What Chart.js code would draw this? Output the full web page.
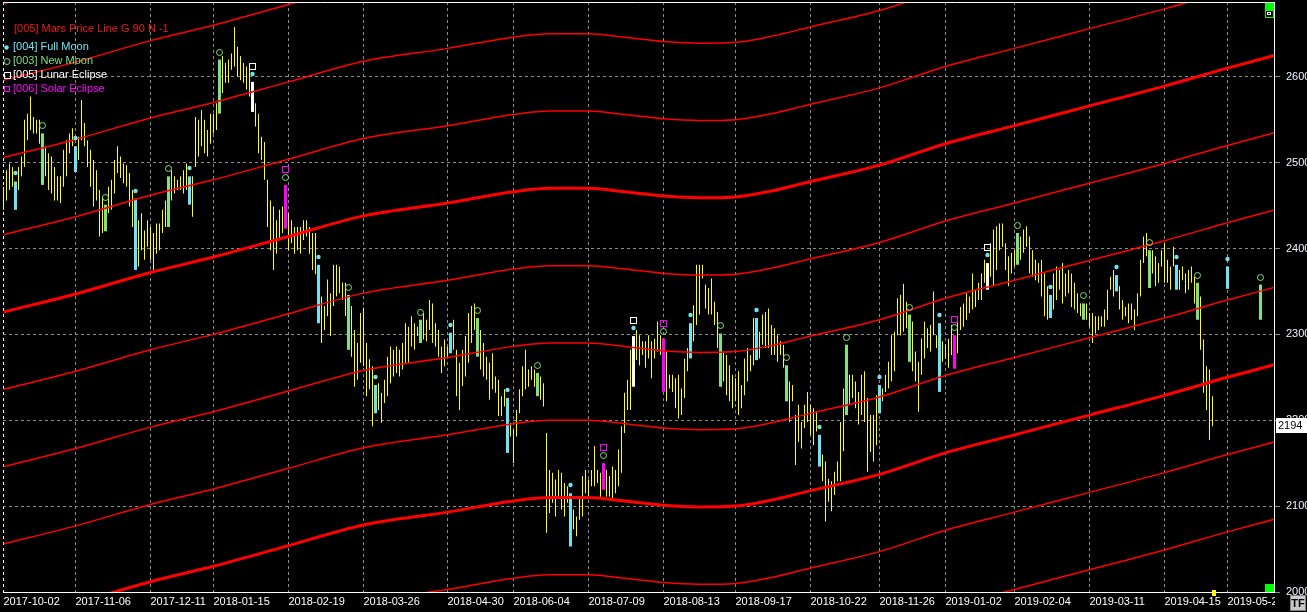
<!DOCTYPE html>
<html>
<head>
<meta charset="utf-8">
<script src="https://cdn.jsdelivr.net/npm/chart.js@4.4.0/dist/chart.umd.min.js"></script>
<style>
    html, body { margin: 0; padding: 0; background: #000; }
    canvas { display: block; }
</style>
</head>
<body>
<canvas id="myChart" width="1307" height="612"></canvas>
<script>
// daily bars from 2017-10-02, index 0 = first bar
var hiVals = [
    2472, 2491, 2499, 2495, 2478, 2495, 2507, 2550, 2557, 2577, 2553, 2550, 2550, 2534, 2519, 2511, 2507, 2495, 2484, 2484,
    2515, 2526, 2534, 2540, 2519, 2530, 2573, 2546, 2526, 2515, 2503, 2491, 2468, 2460, 2451, 2472, 2480, 2503, 2519, 2507,
    2499, 2497, 2488, 2468, 2458, 2433, 2441, 2421, 2433, 2425, 2418, 2429, 2429, 2445, 2456, 2484, 2491, 2484, 2480, 2484,
    2491, 2499, 2484, 2484, 2553, 2550, 2561, 2550, 2538, 2557, 2557, 2569, 2620, 2624, 2616, 2620, 2627, 2658, 2635, 2624,
    2616, 2612, 2608, 2594, 2569, 2557, 2530, 2524, 2480, 2456, 2449, 2433, 2445, 2449, 2474, 2441, 2433, 2425, 2425, 2425,
    2433, 2433, 2425, 2418, 2418, 2381, 2344, 2333, 2364, 2348, 2381, 2381, 2379, 2360, 2360, 2346, 2333, 2305, 2290, 2325,
    2331, 2290, 2271, 2263, 2241, 2243, 2232, 2247, 2274, 2286, 2282, 2286, 2282, 2290, 2313, 2309, 2321, 2313, 2309, 2317,
    2325, 2317, 2340, 2336, 2313, 2305, 2286, 2294, 2286, 2302, 2317, 2282, 2267, 2282, 2298, 2325, 2333, 2336, 2319, 2305,
    2290, 2274, 2267, 2278, 2251, 2247, 2228, 2236, 2226, 2197, 2189, 2212, 2236, 2263, 2282, 2259, 2263, 2259, 2255, 2251,
    2243, 2185, 2142, 2139, 2131, 2142, 2139, 2127, 2123, 2115, 2096, 2088, 2108, 2135, 2142, 2131, 2142, 2170, 2142, 2139,
    2150, 2142, 2135, 2146, 2142, 2166, 2193, 2232, 2247, 2282, 2298, 2305, 2299, 2292, 2292, 2299, 2292, 2295, 2315, 2299,
    2295, 2280, 2253, 2253, 2249, 2253, 2237, 2272, 2284, 2313, 2334, 2381, 2381, 2381, 2358, 2354, 2365, 2338, 2326, 2301,
    2280, 2276, 2264, 2253, 2249, 2257, 2241, 2272, 2284, 2276, 2319, 2319, 2303, 2323, 2326, 2330, 2311, 2307, 2299, 2292,
    2288, 2264, 2245, 2241, 2206, 2218, 2198, 2218, 2233, 2218, 2214, 2210, 2183, 2160, 2152, 2132, 2129, 2140, 2152, 2198,
    2237, 2288, 2253, 2253, 2245, 2233, 2253, 2257, 2226, 2206, 2206, 2229, 2241, 2237, 2253, 2268, 2299, 2303, 2342, 2346,
    2359, 2338, 2323, 2315, 2280, 2268, 2295, 2315, 2307, 2311, 2350, 2299, 2313, 2292, 2288, 2295, 2311, 2299, 2317, 2332,
    2336, 2348, 2344, 2371, 2352, 2360, 2371, 2387, 2383, 2406, 2422, 2426, 2429, 2429, 2406, 2391, 2395, 2398, 2418, 2414,
    2422, 2426, 2414, 2398, 2387, 2383, 2387, 2371, 2356, 2346, 2371, 2379, 2375, 2383, 2371, 2375, 2371, 2360, 2348, 2336,
    2336, 2336, 2325, 2325, 2321, 2321, 2321, 2329, 2352, 2367, 2375, 2369, 2356, 2340, 2332, 2336, 2336, 2329, 2348, 2387,
    2414, 2418, 2398, 2398, 2391, 2383, 2398, 2406, 2387, 2379, 2402, 2381, 2375, 2379, 2371, 2375, 2379, 2367, 2360, 2344,
    2294, 2263, 2259, 2228
]
var loVals = [
    2445, 2456, 2468, 2472, 2445, 2468, 2484, 2495, 2526, 2538, 2534, 2534, 2522, 2474, 2484, 2468, 2464, 2456, 2456, 2453,
    2472, 2484, 2511, 2519, 2489, 2503, 2526, 2519, 2495, 2472, 2449, 2456, 2414, 2418, 2420, 2441, 2445, 2464, 2488, 2482,
    2476, 2472, 2449, 2425, 2375, 2379, 2398, 2387, 2402, 2387, 2375, 2394, 2398, 2418, 2425, 2425, 2456, 2464, 2468, 2468,
    2464, 2468, 2451, 2437, 2495, 2507, 2519, 2511, 2507, 2522, 2534, 2538, 2557, 2581, 2593, 2593, 2608, 2612, 2600, 2596,
    2593, 2585, 2577, 2559, 2542, 2511, 2503, 2480, 2425, 2398, 2375, 2394, 2410, 2418, 2423, 2398, 2406, 2394, 2398, 2394,
    2410, 2414, 2394, 2375, 2370, 2313, 2290, 2305, 2321, 2298, 2333, 2344, 2348, 2340, 2321, 2282, 2274, 2239, 2247, 2267,
    2263, 2228, 2236, 2193, 2208, 2212, 2197, 2220, 2228, 2243, 2251, 2255, 2251, 2259, 2267, 2267, 2286, 2282, 2298, 2290,
    2294, 2292, 2305, 2290, 2286, 2274, 2255, 2263, 2274, 2278, 2282, 2228, 2212, 2240, 2251, 2267, 2290, 2305, 2274, 2259,
    2251, 2247, 2224, 2236, 2232, 2205, 2205, 2216, 2162, 2181, 2150, 2181, 2208, 2228, 2236, 2239, 2247, 2239, 2228, 2224,
    2216, 2069, 2092, 2104, 2088, 2111, 2096, 2088, 2104, 2053, 2073, 2065, 2084, 2088, 2115, 2111, 2123, 2123, 2127, 2111,
    2119, 2111, 2111, 2108, 2115, 2123, 2139, 2185, 2212, 2212, 2239, 2270, 2264, 2276, 2261, 2272, 2249, 2272, 2280, 2276,
    2233, 2222, 2237, 2233, 2214, 2202, 2206, 2226, 2257, 2272, 2292, 2311, 2323, 2365, 2330, 2323, 2323, 2311, 2284, 2239,
    2245, 2229, 2222, 2214, 2222, 2206, 2214, 2229, 2245, 2257, 2264, 2270, 2272, 2288, 2284, 2284, 2276, 2276, 2268, 2276,
    2261, 2222, 2198, 2222, 2148, 2175, 2167, 2191, 2198, 2183, 2171, 2187, 2146, 2129, 2082, 2105, 2094, 2113, 2129, 2129,
    2164, 2206, 2218, 2226, 2214, 2195, 2206, 2198, 2140, 2163, 2152, 2171, 2208, 2222, 2233, 2237, 2245, 2257, 2299, 2299,
    2303, 2307, 2268, 2257, 2245, 2210, 2253, 2272, 2284, 2280, 2299, 2284, 2233, 2268, 2272, 2261, 2276, 2260, 2278, 2305,
    2309, 2317, 2325, 2329, 2332, 2340, 2340, 2360, 2352, 2367, 2356, 2375, 2398, 2402, 2375, 2356, 2371, 2379, 2381, 2387,
    2395, 2402, 2371, 2367, 2363, 2360, 2344, 2321, 2317, 2319, 2329, 2340, 2352, 2336, 2344, 2348, 2332, 2329, 2325, 2321,
    2317, 2317, 2309, 2290, 2301, 2305, 2309, 2309, 2317, 2352, 2344, 2350, 2329, 2317, 2321, 2313, 2317, 2305, 2321, 2344,
    2383, 2391, 2354, 2371, 2356, 2360, 2379, 2360, 2360, 2352, 2379, 2352, 2352, 2363, 2348, 2352, 2360, 2336, 2317, 2282,
    2232, 2212, 2177, 2193
]
var lastClose = 2194

// bars that fall on moon events
var fullMoonIdx = [4, 24, 44, 62, 83, 105, 124, 149, 168, 189, 210, 229, 251, 272, 292, 312, 328, 349, 371, 391, 408]
var newMoonIdx = [13, 34, 55, 72, 94, 115, 139, 158, 178, 200, 220, 239, 261, 281, 302, 317, 338, 360, 382, 398, 419]
var lunarEclipseIdx = [83, 210, 328]
var solarEclipseIdx = [94, 200, 220, 317]

// projected moon bars to the right of the last bar
var projIdx = [408, 419]
var projHi = [2379, 2358]
var projLo = [2353, 2317]

var dateTickIdx = [0, 24, 49, 70, 95, 120, 148, 170, 195, 220, 244, 269, 292, 314, 337, 362, 387, 408]
var dateTickLabels = ['2017-10-02', '2017-11-06', '2017-12-11', '2018-01-15', '2018-02-19', '2018-03-26',
    '2018-04-30', '2018-06-04', '2018-07-09', '2018-08-13', '2018-09-17', '2018-10-22', '2018-11-26',
    '2019-01-02', '2019-02-04', '2019-03-11', '2019-04-15', '2019-05-20']
var priceTicks = [2000, 2100, 2200, 2300, 2400, 2500, 2600]

// Mars price line, read at these bar positions; the set repeats every 90 points
var marsIdx = [0, 24, 49, 70, 95, 120, 148, 170, 182, 195, 207, 220, 232, 244, 256, 269, 292, 314, 337, 362, 387, 408, 424]
var marsBase = [2326, 2347, 2372, 2390, 2414, 2438, 2453, 2466, 2470, 2470, 2466, 2461, 2459, 2460, 2467, 2478, 2497, 2522, 2543, 2566, 2589, 2610, 2625]
var marsStep = 90
var marsLevels = [-7, -6, -5, -4, -3, -2, -1, 0, 1, 2, 3, 4]

var colYellow = '#ffff00'
var colCyan = '#6fe3f2'
var colGreen = '#7ee27e'
var colWhite = '#ffffff'
var colMagenta = '#ff00ff'
var gridCol = '#8c8c8c'

Chart.defaults.font.family = "'Liberation Sans', Arial, sans-serif"
Chart.defaults.font.size = 11

function barRange(i) {
    if (i < hiVals.length) return [loVals[i], hiVals[i]]
    var p = projIdx.indexOf(i)
    return [projLo[p], projHi[p]]
}

function kindOf(i) {
    if (solarEclipseIdx.indexOf(i) >= 0) return 'solar'
    if (lunarEclipseIdx.indexOf(i) >= 0) return 'lunar'
    if (fullMoonIdx.indexOf(i) >= 0) return 'full'
    if (newMoonIdx.indexOf(i) >= 0) return 'new'
    return 'plain'
}

var groups = { plain: [], full: [], new: [], lunar: [], solar: [] }
for (var i = 0; i < hiVals.length; i++) {
    groups[kindOf(i)].push({ x: i, y: barRange(i) })
}
projIdx.forEach(function (i) {
    groups[kindOf(i)].push({ x: i, y: barRange(i) })
})

function barSet(data, color, thick) {
    return {
        type: 'bar',
        data: data,
        backgroundColor: color,
        borderWidth: 0,
        inflateAmount: 0,
        barThickness: thick,
        grouped: false,
        clip: 0,
        order: 2
    }
}

var datasets = [
    barSet(groups.plain, colYellow, 1),
    barSet(groups.full, colCyan, 3),
    barSet(groups.new, colGreen, 3),
    barSet(groups.lunar, colWhite, 3),
    barSet(groups.solar, colMagenta, 3)
]

marsLevels.forEach(function (k) {
    datasets.push({
        type: 'line',
        data: marsIdx.map(function (x, j) { return { x: x, y: marsBase[j] + k * marsStep } }),
        borderColor: '#ff0000',
        borderWidth: k % 4 === 0 ? 3 : 1.5,
        pointRadius: 0,
        cubicInterpolationMode: 'monotone',
        clip: 0,
        order: 1
    })
})

var moonMarks = {
    id: 'moonMarks',
    afterDatasetsDraw: function (chart) {
        var ctx = chart.ctx
        var xs = chart.scales.x
        var ys = chart.scales.y
        ctx.save()
        ctx.lineWidth = 1
        fullMoonIdx.forEach(function (i) {
            var px = xs.getPixelForValue(i)
            var py = Math.round(ys.getPixelForValue(barRange(i)[1])) - 8
            ctx.fillStyle = colCyan
            ctx.beginPath()
            ctx.arc(px, py, 2.2, 0, Math.PI * 2)
            ctx.fill()
        })
        newMoonIdx.forEach(function (i) {
            var px = xs.getPixelForValue(i)
            var py = Math.round(ys.getPixelForValue(barRange(i)[1])) - 8
            ctx.strokeStyle = colGreen
            ctx.beginPath()
            ctx.arc(px, py + 0.5, 3, 0, Math.PI * 2)
            ctx.stroke()
        })
        function square(i, color) {
            var px = Math.floor(xs.getPixelForValue(i))
            var py = Math.round(ys.getPixelForValue(barRange(i)[1])) - 16
            ctx.strokeStyle = color
            ctx.strokeRect(px - 3 + 0.5, py - 3 + 0.5, 6, 6)
        }
        lunarEclipseIdx.forEach(function (i) { square(i, colWhite) })
        solarEclipseIdx.forEach(function (i) { square(i, colMagenta) })
        ctx.restore()
    }
}

var overlay = {
    id: 'overlay',
    afterDraw: function (chart) {
        var ctx = chart.ctx
        var a = chart.chartArea
        var xs = chart.scales.x
        var ys = chart.scales.y
        ctx.save()

        // top frame line
        ctx.strokeStyle = '#ffffff'
        ctx.lineWidth = 1
        ctx.beginPath()
        ctx.moveTo(a.left, a.top + 0.5)
        ctx.lineTo(a.right, a.top + 0.5)
        ctx.stroke()

        // legend block
        ctx.font = "11px 'Liberation Sans', Arial, sans-serif"
        ctx.textBaseline = 'middle'
        ctx.textAlign = 'left'
        ctx.fillStyle = '#f01818'
        ctx.fillText('[005] Mars Price Line G 90 N -1', 14, 29)

        ctx.fillStyle = colCyan
        ctx.beginPath()
        ctx.arc(6.5, 47.5, 2.2, 0, Math.PI * 2)
        ctx.fill()
        ctx.fillText('[004] Full Moon', 13, 47)

        ctx.strokeStyle = colGreen
        ctx.beginPath()
        ctx.arc(7, 61.5, 3, 0, Math.PI * 2)
        ctx.stroke()
        ctx.fillStyle = colGreen
        ctx.fillText('[003] New Moon', 13, 61)

        ctx.strokeStyle = colWhite
        ctx.strokeRect(4.5, 72.5, 6, 6)
        ctx.fillStyle = colWhite
        ctx.fillText('[005] Lunar Eclipse', 13, 75)

        ctx.strokeStyle = colMagenta
        ctx.strokeRect(4.5, 86.5, 5, 5)
        ctx.fillStyle = colMagenta
        ctx.fillText('[006] Solar Eclipse', 13, 89)

        // current price box
        var cy = Math.round(ys.getPixelForValue(lastClose))
        ctx.fillStyle = '#ffffff'
        ctx.fillRect(a.right + 2, cy - 7, 31, 15)
        ctx.fillStyle = '#000000'
        ctx.fillText(String(lastClose), a.right + 4, cy + 1)

        // last bar marker on the time axis
        var lx = Math.floor(xs.getPixelForValue(hiVals.length - 1))
        ctx.fillStyle = colYellow
        ctx.fillRect(lx, a.bottom - 2, 4, 6)

        // corner boxes
        ctx.fillStyle = '#00ff00'
        ctx.fillRect(a.right - 9, a.top + 1, 9, 7)
        ctx.fillRect(a.right - 9, a.top + 8, 9, 8)
        ctx.fillStyle = '#000000'
        ctx.fillRect(a.right - 8, a.top + 9, 7, 6)
        ctx.strokeStyle = '#ffffff'
        ctx.strokeRect(a.right - 6.5, a.top + 10.5, 3, 2)
        ctx.fillStyle = '#00ff00'
        ctx.fillRect(a.right - 9, a.bottom - 8, 9, 8)

        // cut the last date label at the frame, then the TF button
        ctx.fillStyle = '#000000'
        ctx.fillRect(a.right + 1, a.bottom + 3, 11, 17)
        ctx.fillStyle = '#c8c8c8'
        ctx.fillRect(1290, 595, 16, 16)
        ctx.strokeStyle = '#808080'
        ctx.strokeRect(1290.5, 595.5, 15, 15)
        ctx.fillStyle = '#000000'
        ctx.font = "bold 11px 'Liberation Sans', Arial, sans-serif"
        ctx.textAlign = 'center'
        ctx.fillText('TF', 1298, 603.5)

        ctx.restore()
    }
}

var myChart = document.getElementById('myChart').getContext('2d')

var chart = new Chart(myChart, {
    type: 'bar',
    data: { datasets: datasets },
    options: {
        responsive: false,
        animation: false,
        events: [],
        layout: { padding: { left: 3, top: 2, right: 0, bottom: 0 } },
        plugins: {
            legend: { display: false },
            tooltip: { enabled: false }
        },
        scales: {
            x: {
                type: 'linear',
                min: -1 / 6,
                max: 423.5,
                offset: false,
                grid: {
                    offset: false,
                    drawTicks: false,
                    lineWidth: 1,
                    color: function (c) { return c.index === 0 ? '#ffffff' : gridCol },
                    borderDash: [3, 3]
                },
                border: { color: '#ffffff', width: 1, dash: [3, 3] },
                ticks: {
                    color: '#ffffff',
                    align: 'start',
                    autoSkip: false,
                    maxRotation: 0,
                    minRotation: 0,
                    padding: 3,
                    callback: function (v) {
                        var k = dateTickIdx.indexOf(v)
                        return k >= 0 ? dateTickLabels[k] : ''
                    }
                },
                afterBuildTicks: function (s) {
                    s.ticks = dateTickIdx.map(function (v) { return { value: v } })
                },
                afterFit: function (s) {
                    s.height = 20
                    s.paddingLeft = 0
                    s.paddingRight = 0
                }
            },
            y: {
                position: 'right',
                min: 2000,
                max: 2687,
                beginAtZero: false,
                grid: {
                    color: gridCol,
                    tickLength: 6,
                    tickColor: gridCol,
                    borderDash: [3, 3]
                },
                border: { color: '#ffffff', width: 1, dash: [3, 3] },
                ticks: {
                    color: '#eef6ff',
                    padding: 6,
                    callback: function (v) { return String(v) }
                },
                afterBuildTicks: function (s) {
                    s.ticks = priceTicks.map(function (v) { return { value: v } })
                },
                afterFit: function (s) {
                    s.width = 33
                    s.paddingTop = 0
                    s.paddingBottom = 0
                }
            }
        }
    },
    plugins: [moonMarks, overlay]
})
</script>
</body>
</html>
